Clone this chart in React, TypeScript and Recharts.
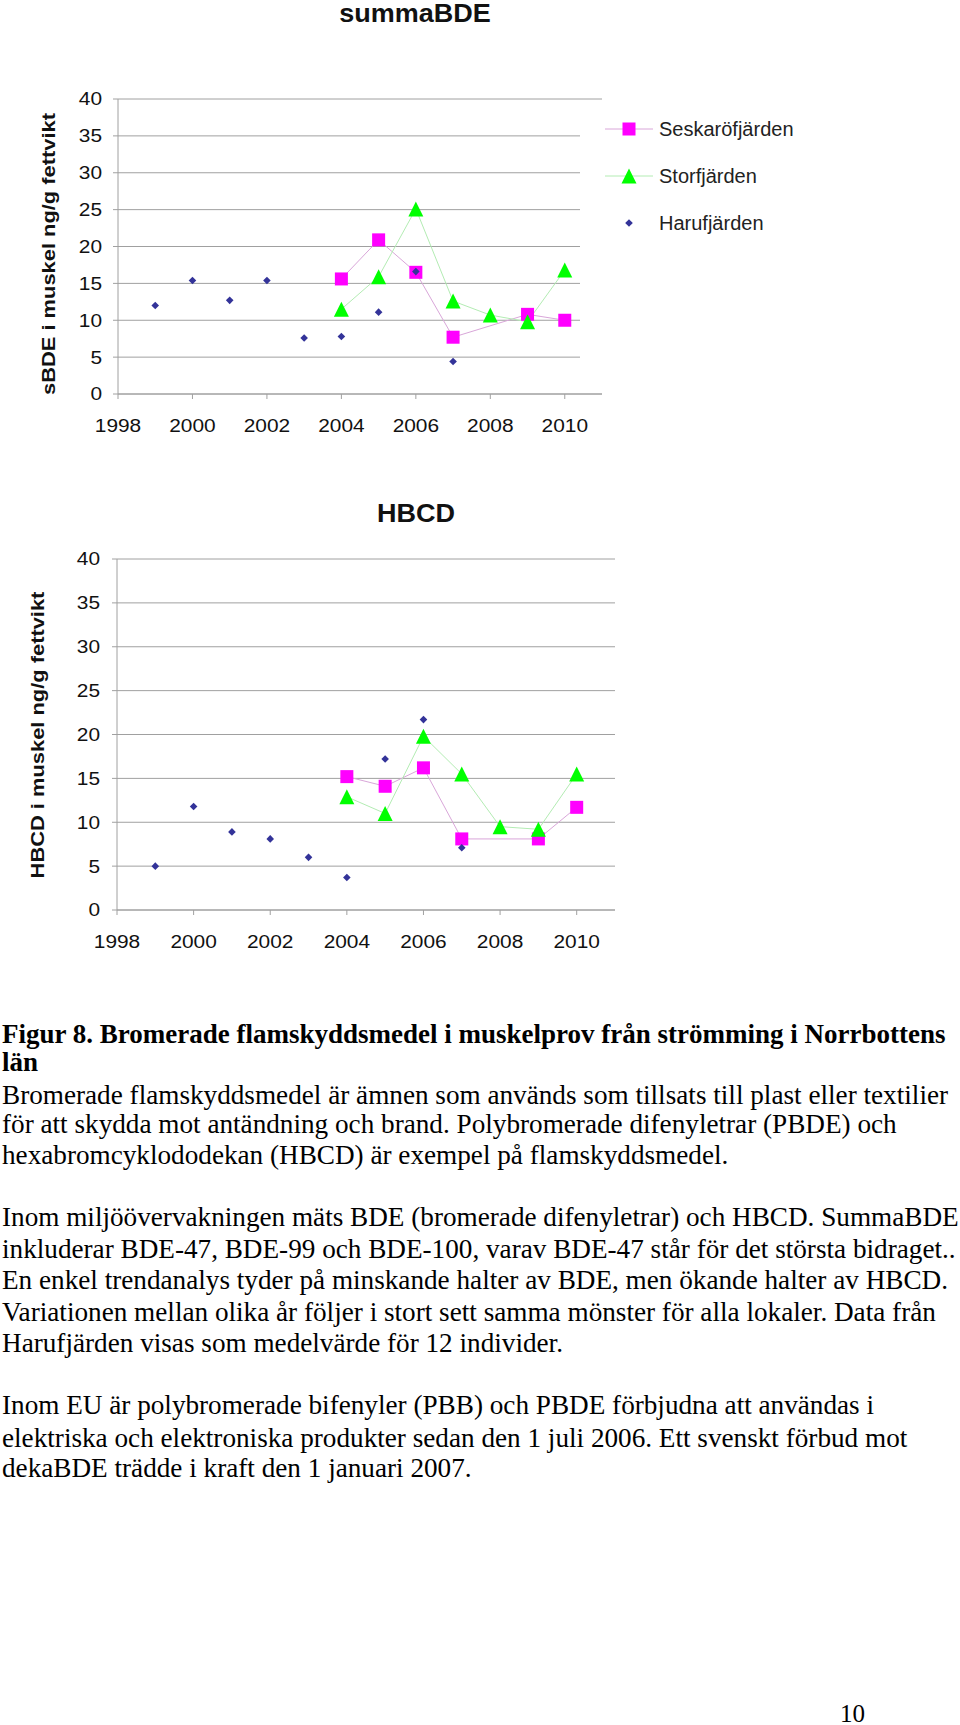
import React from 'react'
import { LineChart, Line, XAxis, YAxis, CartesianGrid } from 'recharts'

// years on the x axis
const years = [1999, 2000, 2001, 2002, 2003, 2004, 2005, 2006, 2007, 2008, 2009, 2010]
const xTicks = [1998, 2000, 2002, 2004, 2006, 2008, 2010]
const yTicks = [0, 5, 10, 15, 20, 25, 30, 35, 40]

// summaBDE, ng/g fettvikt
const bdeSeskar = [null, null, null, null, null, 15.6, 20.9, 16.5, 7.7, null, 10.8, 10.0]
const bdeStorf = [null, null, null, null, null, 11.5, 15.9, 25.1, 12.6, 10.7, 9.8, 16.8]
const bdeHaru = [12.0, 15.4, 12.7, 15.4, 7.6, 7.8, 11.1, 16.6, 4.4, null, null, null]

// HBCD, ng/g fettvikt
const hbcdSeskar = [null, null, null, null, null, 15.2, 14.1, 16.2, 8.1, null, 8.1, 11.7]
const hbcdStorf = [null, null, null, null, null, 12.9, 11.0, 19.8, 15.5, 9.5, 9.2, 15.5]
const hbcdHaru = [5.0, 11.8, 8.9, 8.1, 6.0, 3.7, 17.2, 21.7, 7.1, null, null, null]

const seriesNames = ['Seskaröfjärden', 'Storfjärden', 'Harufjärden']

const captionBold = [
  'Figur 8. Bromerade flamskyddsmedel i muskelprov från strömming i Norrbottens',
  'län',
]
const paragraphs = [
  [
    'Bromerade flamskyddsmedel är ämnen som används som tillsats till plast eller textilier',
    'för att skydda mot antändning och brand. Polybromerade difenyletrar (PBDE) och',
    'hexabromcyklododekan (HBCD) är exempel på flamskyddsmedel.',
  ],
  [
    'Inom miljöövervakningen mäts BDE (bromerade difenyletrar) och HBCD. SummaBDE',
    'inkluderar BDE-47, BDE-99 och BDE-100, varav BDE-47 står för det största bidraget..',
    'En enkel trendanalys tyder på minskande halter av BDE, men ökande halter av HBCD.',
    'Variationen mellan olika år följer i stort sett samma mönster för alla lokaler. Data från',
    'Harufjärden visas som medelvärde för 12 individer.',
  ],
  [
    'Inom EU är polybromerade bifenyler (PBB) och PBDE förbjudna att användas i',
    'elektriska och elektroniska produkter sedan den 1 juli 2006. Ett svenskt förbud mot',
    'dekaBDE trädde i kraft den 1 januari 2007.',
  ],
]

const MAGENTA = '#FF00FF'
const GREEN = '#00FF00'
const NAVY = '#333399'
const SANS = '"Liberation Sans", Arial, sans-serif'
const SERIF = '"Liberation Serif", "Times New Roman", serif'
// the original chart fonts are a bit wide
const STRETCH = 1.16

const buildRows = (s: (number | null)[], t: (number | null)[], h: (number | null)[]) =>
  years.map((year, i) => ({ year, seskar: s[i], storf: t[i], haru: h[i] }))

const bdeRows = buildRows(bdeSeskar, bdeStorf, bdeHaru)
const hbcdRows = buildRows(hbcdSeskar, hbcdStorf, hbcdHaru)

const empty = (p: any) => p.value == null || p.cx == null || p.cy == null || isNaN(p.cy)

const squareDot = (p: any) =>
  empty(p) ? <g key={`sq-${p.index}`} /> : (
    <rect key={`sq-${p.index}`} x={p.cx - 6.5} y={p.cy - 6.5} width={13} height={13} fill={MAGENTA} />
  )

const triangleDot = (p: any) =>
  empty(p) ? <g key={`tr-${p.index}`} /> : (
    <polygon
      key={`tr-${p.index}`}
      points={`${p.cx},${p.cy - 7.5} ${p.cx - 7.5},${p.cy + 7.5} ${p.cx + 7.5},${p.cy + 7.5}`}
      fill={GREEN}
    />
  )

const diamondDot = (p: any) =>
  empty(p) ? <g key={`di-${p.index}`} /> : (
    <polygon
      key={`di-${p.index}`}
      points={`${p.cx},${p.cy - 3.8} ${p.cx + 3.8},${p.cy} ${p.cx},${p.cy + 3.8} ${p.cx - 3.8},${p.cy}`}
      fill={NAVY}
    />
  )

const XTick = (p: any) => (
  <g transform={`translate(${p.x},${p.y}) scale(${STRETCH},1)`}>
    <text x={0} y={0} dy="0.71em" textAnchor="middle" fontFamily={SANS} fontSize={18} fill="#111">
      {p.payload.value}
    </text>
  </g>
)

const YTick = (p: any) => (
  <g transform={`translate(${p.x},${p.y}) scale(${STRETCH},1)`}>
    <text x={0} y={0} dy="0.355em" textAnchor="end" fontFamily={SANS} fontSize={18} fill="#111">
      {p.payload.value}
    </text>
  </g>
)

interface PanelProps {
  rows: any[]
  top: number
  width: number
  height: number
  margin: { top: number; right: number; left: number; bottom: number }
  yWidth: number
  yTickMargin: number
}

function Panel({ rows, top, width, height, margin, yWidth, yTickMargin }: PanelProps) {
  return (
    <div style={{ position: 'absolute', left: 0, top }}>
      <LineChart width={width} height={height} data={rows} margin={margin}>
        <CartesianGrid vertical={false} stroke="#a0a0a0" />
        <XAxis
          dataKey="year"
          type="number"
          domain={[1998, 2011]}
          ticks={xTicks}
          allowDataOverflow
          height={40}
          stroke="#a0a0a0"
          tickSize={5}
          tickMargin={20}
          tick={XTick}
        />
        <YAxis
          domain={[0, 40]}
          ticks={yTicks}
          width={yWidth}
          stroke="#a0a0a0"
          tickSize={5}
          tickMargin={yTickMargin}
          tick={YTick}
        />
        <Line
          dataKey="seskar"
          stroke="#d9a6d9"
          strokeWidth={1}
          connectNulls
          dot={squareDot}
          activeDot={false}
          isAnimationActive={false}
        />
        <Line
          dataKey="storf"
          stroke="#b3ecb3"
          strokeWidth={1}
          connectNulls
          dot={triangleDot}
          activeDot={false}
          isAnimationActive={false}
        />
        <Line
          dataKey="haru"
          stroke="none"
          dot={diamondDot}
          activeDot={false}
          isAnimationActive={false}
        />
      </LineChart>
    </div>
  )
}

function YLabel({ text, cx, cy }: { text: string; cx: number; cy: number }) {
  return (
    <div
      style={{
        position: 'absolute',
        left: cx,
        top: cy,
        transform: 'translate(-50%, -50%) rotate(-90deg) scaleX(1.215)',
        fontFamily: SANS,
        fontWeight: 'bold',
        fontSize: 18,
        lineHeight: '20px',
        whiteSpace: 'nowrap',
        color: '#111',
      }}
    >
      {text}
    </div>
  )
}

function Title({ text, cx, cy }: { text: string; cx: number; cy: number }) {
  return (
    <div
      style={{
        position: 'absolute',
        left: cx,
        top: cy,
        transform: 'translate(-50%, -50%) scaleX(1.08)',
        fontFamily: SANS,
        fontWeight: 'bold',
        fontSize: 25,
        whiteSpace: 'nowrap',
        color: '#111',
      }}
    >
      {text}
    </div>
  )
}

function LegendBox() {
  const rows = [129, 176, 223]
  return (
    <div style={{ position: 'absolute', left: 580, top: 101, width: 260, height: 291, background: '#fff' }}>
      {seriesNames.map((name, i) => (
        <div key={name} style={{ position: 'absolute', left: 23, top: rows[i] - 101 - 15, height: 30 }}>
          <svg width={52} height={30} style={{ position: 'absolute', left: 0, top: 0 }}>
            {i === 0 && (
              <>
                <line x1={2} y1={15} x2={50} y2={15} stroke="#d9a6d9" />
                <rect x={19.5} y={8.5} width={13} height={13} fill={MAGENTA} />
              </>
            )}
            {i === 1 && (
              <>
                <line x1={2} y1={15} x2={50} y2={15} stroke="#b3ecb3" />
                <polygon points="26,7.5 18.5,22.5 33.5,22.5" fill={GREEN} />
              </>
            )}
            {i === 2 && <polygon points="26,11.2 29.8,15 26,18.8 22.2,15" fill={NAVY} />}
          </svg>
          <div
            style={{
              position: 'absolute',
              left: 56,
              top: 0,
              lineHeight: '30px',
              fontFamily: SANS,
              fontSize: 20,
              whiteSpace: 'nowrap',
              color: '#222',
            }}
          >
            {name}
          </div>
        </div>
      ))}
    </div>
  )
}

const lineStyle = (top: number, bold = false): React.CSSProperties => ({
  position: 'absolute',
  left: 2,
  top,
  fontFamily: SERIF,
  fontSize: bold ? 27 : 27.2,
  lineHeight: '30px',
  fontWeight: bold ? 'bold' : 'normal',
  whiteSpace: 'nowrap',
  color: '#000',
})

export default function App() {
  const paraTops = [
    [1080, 1109, 1140],
    [1202, 1234, 1265, 1297, 1328],
    [1390, 1423, 1453],
  ]
  return (
    <div style={{ position: 'absolute', left: 0, top: 0, width: 960, height: 1725, background: '#fff' }}>
      <Title text="summaBDE" cx={415} cy={13} />
      <Panel
        rows={bdeRows}
        top={0}
        width={640}
        height={450}
        margin={{ top: 99, right: 38, left: 0, bottom: 16 }}
        yWidth={118}
        yTickMargin={11}
      />
      <YLabel text="sBDE i muskel ng/g fettvikt" cx={49} cy={254} />
      <LegendBox />

      <Title text="HBCD" cx={416} cy={513} />
      <Panel
        rows={hbcdRows}
        top={470}
        width={640}
        height={500}
        margin={{ top: 89, right: 25, left: 0, bottom: 20 }}
        yWidth={117}
        yTickMargin={12}
      />
      <YLabel text="HBCD i muskel ng/g fettvikt" cx={38} cy={735} />

      <div style={lineStyle(1019, true)}>{captionBold[0]}</div>
      <div style={lineStyle(1047, true)}>{captionBold[1]}</div>
      {paragraphs.map((para, pi) =>
        para.map((txt, li) => (
          <div key={`${pi}-${li}`} style={lineStyle(paraTops[pi][li])}>
            {txt}
          </div>
        ))
      )}
      <div style={{ ...lineStyle(1699), left: 840, fontSize: 25 }}>10</div>
    </div>
  )
}
